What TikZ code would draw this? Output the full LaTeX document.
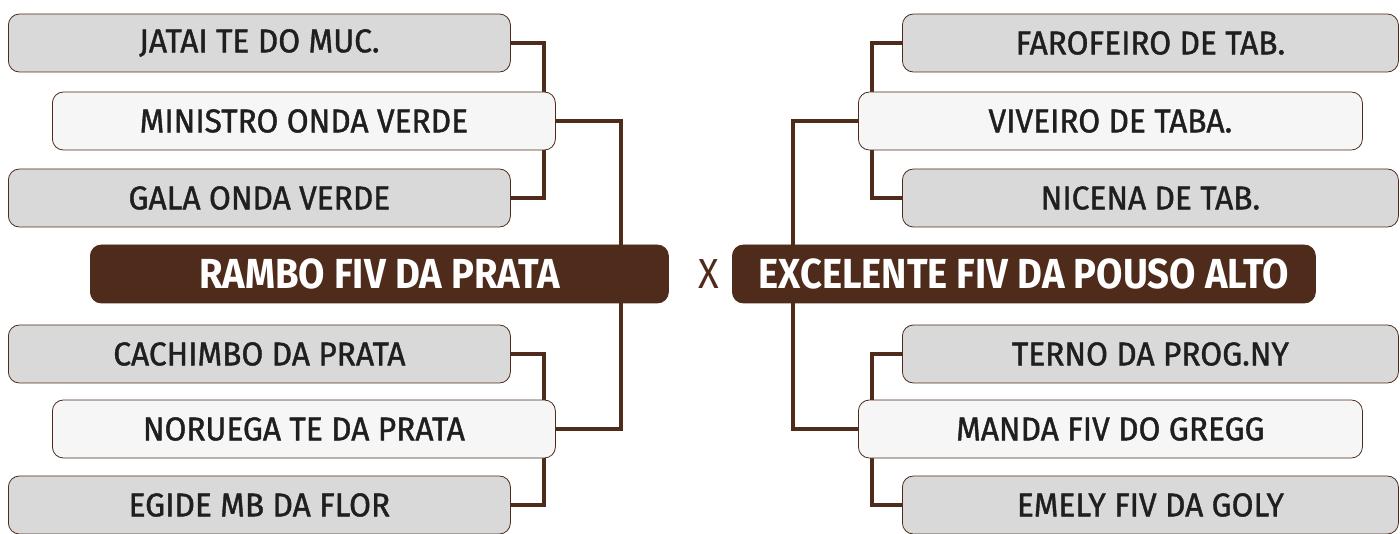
\documentclass[tikz,border=0pt]{standalone}
\usepackage{fontspec}
\setmainfont{Fira Sans}
\newfontfamily\namefont[FakeStretch=0.96,FakeBold=1.2]{Fira Sans}
\newfontfamily\mainfont[FakeStretch=0.91]{Fira Sans}
\usetikzlibrary{backgrounds}
\definecolor{bracketbrown}{HTML}{4E2B1A}
\definecolor{namegray}{HTML}{D9D9D9}
\definecolor{namewhite}{HTML}{F6F6F6}
\tikzset{
  namebox/.style={draw=bracketbrown,line width=0.8pt,rounded corners=11pt,anchor=west,
    minimum height=58pt,inner sep=0pt,text=black!88,
    font=\namefont\fontsize{33}{33}\selectfont},
  graybox/.style={namebox,fill=namegray,minimum width=502pt},
  whitebox/.style={namebox,fill=namewhite,minimum width=503pt},
  mainbox/.style={namebox,fill=bracketbrown,text=white,
    font=\mainfont\bfseries\fontsize{42}{42}\selectfont},
  bracket/.style={draw=bracketbrown,line width=4.5pt},
}

\begin{document}
\begin{tikzpicture}[x=1pt,y=-1pt]
  \useasboundingbox (0,0) rectangle (1400,534);
  % left side
  \node[graybox]  (jatai)     at (8,43)   {JATAI TE DO MUC.};
  \node[whitebox] (ministro)  at (52,121) {MINISTRO ONDA VERDE};
  \node[graybox]  (gala)      at (8,198)  {GALA ONDA VERDE};
  \node[mainbox,minimum width=578pt] (rambo) at (90,274) {RAMBO FIV DA PRATA};
  \node[graybox]  (cachimbo)  at (8,354)  {CACHIMBO DA PRATA};
  \node[whitebox] (noruega)   at (52,429) {NORUEGA TE DA PRATA};
  \node[graybox]  (egide)     at (8,505)  {EGIDE MB DA FLOR};
  % centre
  \node[text=bracketbrown,font=\mainfont\fontsize{42}{42}\selectfont] (versus) at (709,274) {X};
  % right side
  \node[graybox,minimum width=496pt]  (farofeiro) at (902,43)  {FAROFEIRO DE TAB.};
  \node[whitebox,minimum width=504pt] (viveiro)   at (858,121) {VIVEIRO DE TABA.};
  \node[graybox,minimum width=496pt]  (nicena)    at (902,198) {NICENA DE TAB.};
  \node[mainbox,minimum width=583pt] (excelente) at (732,274) {EXCELENTE FIV DA POUSO ALTO};
  \node[graybox,minimum width=496pt]  (terno)     at (902,354) {TERNO DA PROG.NY};
  \node[whitebox,minimum width=504pt] (manda)     at (858,429) {MANDA FIV DO GREGG};
  \node[graybox,minimum width=496pt]  (emely)     at (902,505) {EMELY FIV DA GOLY};
  % brackets behind the boxes
  \begin{scope}[on background layer]
    \path[bracket] (jatai.east) -- ++(33,0) |- (gala.east);
    \path[bracket] (cachimbo.east) -- ++(33,0) |- (egide.east);
    \path[bracket] (ministro.east) -- ++(65,0) |- (noruega.east);
    \path[bracket] (farofeiro.west) -- ++(-30,0) |- (nicena.west);
    \path[bracket] (terno.west) -- ++(-30,0) |- (emely.west);
    \path[bracket] (viveiro.west) -- ++(-65,0) |- (manda.west);
  \end{scope}
\end{tikzpicture}
\end{document}
